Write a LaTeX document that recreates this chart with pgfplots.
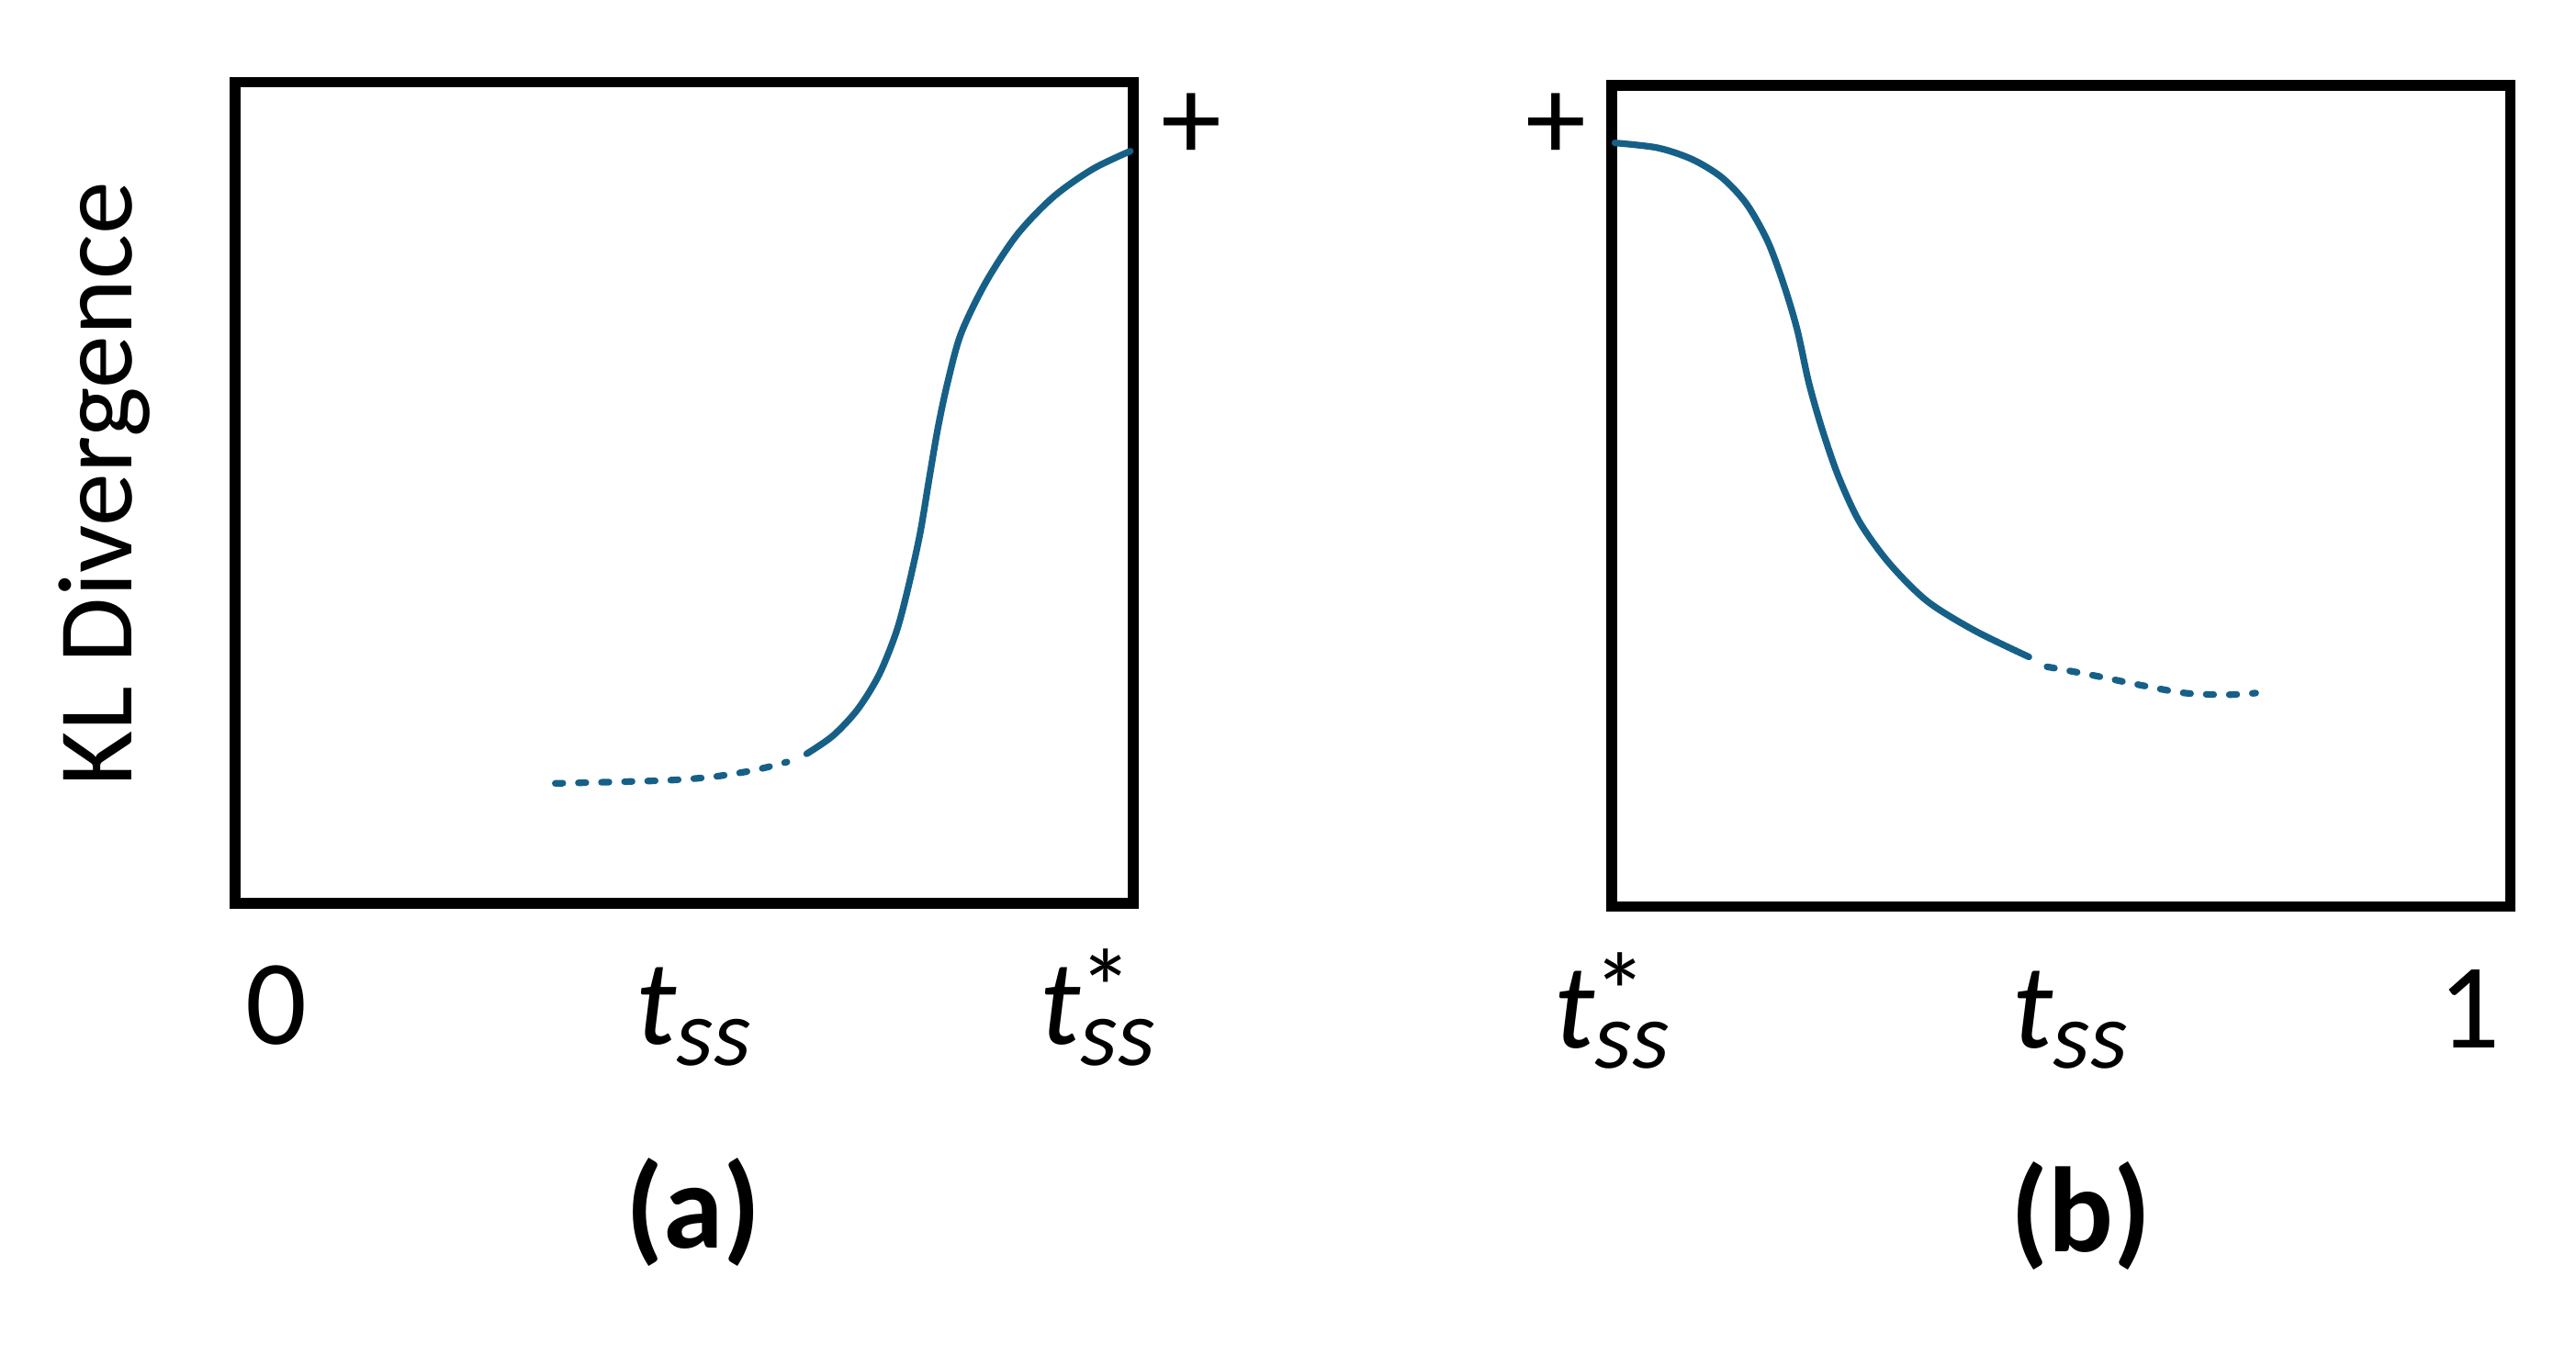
\documentclass[border=0pt]{standalone}
\usepackage{fontspec}
\setmainfont{Carlito}
\usepackage{pgfplots}
\pgfplotsset{compat=1.18}
\definecolor{curve}{RGB}{22,96,136}

% t_ss and t*_ss set in the text font
\newcommand{\sub}{\raisebox{-3.6pt}{\itshape\fontsize{16.5}{16.5}\selectfont ss}}
\newcommand{\tss}{\textit{t}\sub}
\newcommand{\tsss}{\textit{t}\makebox[0pt][l]{\hspace{-0.3pt}\raisebox{3pt}{\fontsize{19}{19}\selectfont *}}\sub}

\pgfplotsset{panel/.style={
    scale only axis, width=5.47cm, height=5cm,
    xmin=0, xmax=547, ymin=0, ymax=500,
    axis line style={line width=1.9pt, black},
    ytick=\empty, major tick length=0pt,
    xticklabel style={anchor=base, yshift=-0.86cm, font=\fontsize{21}{25}\selectfont},
    clip=false,
  },
  solidc/.style={curve, line width=1.15pt, smooth, line cap=round},
  dotc/.style={curve, line width=1.15pt, smooth, line cap=round, dash pattern=on 1.3pt off 2.7pt},
}

\begin{document}
\begin{tikzpicture}
\path[use as bounding box] (0,0) rectangle (15.68,8.25);

% panel (a)
\begin{axis}[panel, at={(1.43cm,2.75cm)}, anchor=south west,
    xtick={25,279,525}, xticklabels={0,\tss,\tsss}]
\addplot[dotc] coordinates {
  (195,73) (236,74) (266,75) (291,77) (316,81) (336,86)
};
\addplot[solidc] coordinates {
  (348,91) (364,102) (379,118) (392,139) (402.5,165) (409.5,191) (417,225)
  (422.5,258) (428,290) (434,318) (442,347) (457,378) (476,407) (498,430)
  (522,447) (545,458)
};
\node[font=\fontsize{21}{24}\selectfont] at (axis cs:582,473) {+};
\path (rel axis cs:0,0.51) ++(-0.63cm,0)
  node[rotate=90, anchor=base, font=\fontsize{18.4}{22}\selectfont] {KL Divergence};
\node[anchor=base, yshift=-2.1cm, font=\fontsize{21}{25}\selectfont\bfseries]
  at (rel axis cs:0.51,0) {(a)};
\end{axis}

% panel (b)
\begin{axis}[panel, at={(9.81cm,2.73cm)}, anchor=south west,
    xtick={0,279,522}, xticklabels={\tsss,\tss,1}]
\addplot[solidc] coordinates {
  (2,465) (28,462) (49,455) (67,444) (82,428) (95,405) (105,378)
  (113,351) (120,319) (128,291) (138,262) (151,234) (169,209) (192,186)
  (221,168) (254,152)
};
\addplot[dotc] coordinates {
  (265,146) (292,141) (321,135) (349,130) (375,129) (392,130)
};
\node[font=\fontsize{21}{24}\selectfont] at (axis cs:-34,475) {+};
\node[anchor=base, yshift=-2.1cm, font=\fontsize{21}{25}\selectfont\bfseries]
  at (rel axis cs:0.522,0) {(b)};
\end{axis}
\end{tikzpicture}
\end{document}
